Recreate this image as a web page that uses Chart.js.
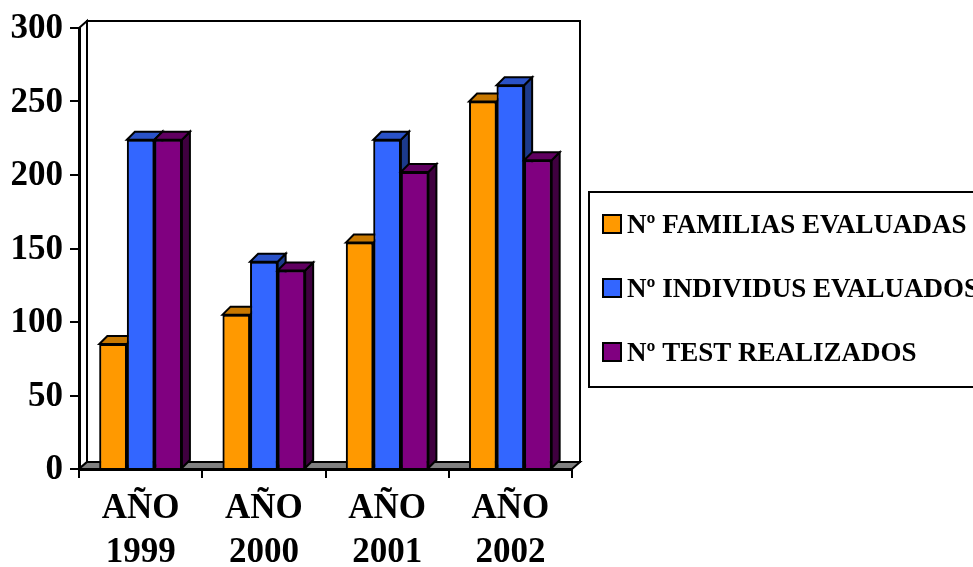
<!DOCTYPE html>
<html>
<head>
<meta charset="utf-8">
<script src="https://cdn.jsdelivr.net/npm/chart.js@4.4.1/dist/chart.umd.min.js"></script>
<style>
  html, body { margin: 0; padding: 0; background: #ffffff; }
  #wrap { width: 973px; height: 567px; }
</style>
</head>
<body>
<div id="wrap"><canvas id="c" width="973" height="567"></canvas></div>
<script>
// Years shown on the category axis (two-line labels)
const categories = [['AÑO', '1999'], ['AÑO', '2000'], ['AÑO', '2001'], ['AÑO', '2002']];

// Series
const seriesNames = ['Nº FAMILIAS EVALUADAS', 'Nº INDIVIDUS EVALUADOS', 'Nº TEST REALIZADOS'];
const familias   = [85, 105, 154, 250];
const individuos = [224, 141, 224, 261];
const tests      = [224, 135, 202, 210];

// Value axis
const yTicks = [0, 50, 100, 150, 200, 250, 300];

// Face colours: front, top, side
const palette = [
  { front: '#FF9900', top: '#C87800', side: '#7F4C00' },
  { front: '#3366FF', top: '#2A52C8', side: '#1C3A8C' },
  { front: '#800080', top: '#600060', side: '#3F003F' }
];

const FONT = "'Liberation Serif', 'Times New Roman', serif";
const BAR_DX = 8, BAR_DY = 8;     // depth of the columns
const WALL_DX = 8, WALL_DY = 7;   // depth of the floor and walls

function poly(ctx, pts, fill) {
  ctx.beginPath();
  ctx.moveTo(pts[0][0], pts[0][1]);
  for (let i = 1; i < pts.length; i++) ctx.lineTo(pts[i][0], pts[i][1]);
  ctx.closePath();
  if (fill) { ctx.fillStyle = fill; ctx.fill(); }
  ctx.stroke();
}

// Walls and floor behind the columns
const wallsPlugin = {
  id: 'walls',
  beforeDraw(chart) {
    const { ctx, chartArea: a } = chart;
    ctx.save();
    ctx.fillStyle = '#ffffff';
    ctx.fillRect(0, 0, chart.width, chart.height);
    ctx.strokeStyle = '#000000';
    ctx.lineWidth = 2;
    ctx.lineJoin = 'miter';
    // back wall
    poly(ctx, [[a.left + WALL_DX, a.top - WALL_DY], [a.right + WALL_DX, a.top - WALL_DY],
               [a.right + WALL_DX, a.bottom - WALL_DY], [a.left + WALL_DX, a.bottom - WALL_DY]], '#ffffff');
    // side wall
    poly(ctx, [[a.left, a.top], [a.left + WALL_DX, a.top - WALL_DY],
               [a.left + WALL_DX, a.bottom - WALL_DY], [a.left, a.bottom]], '#ffffff');
    // floor
    poly(ctx, [[a.left, a.bottom], [a.right, a.bottom],
               [a.right + WALL_DX, a.bottom - WALL_DY], [a.left + WALL_DX, a.bottom - WALL_DY]], '#808080');
    ctx.restore();
  }
};

// Top and side faces of each column, painted left to right
const columnsPlugin = {
  id: 'columns3d',
  afterDatasetsDraw(chart) {
    const { ctx } = chart;
    const bars = [];
    chart.data.datasets.forEach((ds, di) => {
      const meta = chart.getDatasetMeta(di);
      meta.data.forEach(el => bars.push({ el, di }));
    });
    bars.sort((p, q) => p.el.x - q.el.x);
    ctx.save();
    ctx.strokeStyle = '#000000';
    ctx.lineWidth = 2;
    ctx.lineJoin = 'miter';
    bars.forEach(({ el, di }) => {
      const x0 = el.x - el.width / 2, x1 = el.x + el.width / 2;
      const yt = el.y, yb = el.base;
      poly(ctx, [[x1, yt], [x1 + BAR_DX, yt - BAR_DY], [x1 + BAR_DX, yb - BAR_DY], [x1, yb]], palette[di].side);
      poly(ctx, [[x0, yt], [x0 + BAR_DX, yt - BAR_DY], [x1 + BAR_DX, yt - BAR_DY], [x1, yt]], palette[di].top);
      el.draw(ctx, chart.chartArea);
    });
    ctx.restore();
  }
};

// Boxed legend to the right of the plot
const legendBoxPlugin = {
  id: 'legendBox',
  afterDraw(chart) {
    const { ctx } = chart;
    const left = 589, top = 192, height = 195;
    ctx.save();
    ctx.strokeStyle = '#000000';
    ctx.lineWidth = 2;
    ctx.strokeRect(left, top, chart.width - left + 10, height);
    ctx.font = 'bold 27px ' + FONT;
    ctx.textBaseline = 'alphabetic';
    ctx.textAlign = 'left';
    chart.data.datasets.forEach((ds, i) => {
      const cy = 224 + i * 64;
      ctx.fillStyle = ds.backgroundColor;
      ctx.fillRect(603, cy - 9, 18, 18);
      ctx.strokeRect(603, cy - 9, 18, 18);
      ctx.fillStyle = '#000000';
      ctx.fillText(ds.label, 627, cy + 9);
    });
    ctx.restore();
  }
};

const seriesValues = [familias, individuos, tests];

new Chart(document.getElementById('c'), {
  type: 'bar',
  data: {
    labels: categories,
    datasets: seriesValues.map((vals, i) => ({
      label: seriesNames[i],
      data: vals,
      backgroundColor: palette[i].front,
      borderColor: '#000000',
      borderWidth: 2,
      borderSkipped: 'bottom',
      barPercentage: 1.0,
      categoryPercentage: 0.67
    }))
  },
  options: {
    responsive: false,
    animation: false,
    events: [],
    layout: { padding: { top: 26, right: 401, left: 0, bottom: 0 } },
    plugins: {
      legend: { display: false },
      tooltip: { enabled: false },
      title: { display: false }
    },
    scales: {
      x: {
        offset: true,
        grid: { display: true, offset: true, drawOnChartArea: false, drawTicks: true,
                tickLength: 9, color: '#000000', lineWidth: 2 },
        border: { display: true, color: '#000000', width: 3 },
        ticks: {
          color: '#000000', padding: 9, maxRotation: 0, autoSkip: false,
          font: { family: FONT, size: 35, weight: 'bold', lineHeight: 1.26 }
        },
        afterFit(scale) { scale.height = 98; }
      },
      y: {
        min: yTicks[0],
        max: yTicks[yTicks.length - 1],
        afterBuildTicks(scale) { scale.ticks = yTicks.map(v => ({ value: v })); },
        grid: { display: true, drawOnChartArea: false, drawTicks: true,
                tickLength: 9, color: '#000000', lineWidth: 2 },
        border: { display: true, color: '#000000', width: 3 },
        ticks: {
          color: '#000000', padding: 7, labelOffset: 1,
          font: { family: FONT, size: 35, weight: 'bold' }
        },
        afterFit(scale) { scale.width = 79; }
      }
    }
  },
  plugins: [wallsPlugin, columnsPlugin, legendBoxPlugin]
});
</script>
</body>
</html>
